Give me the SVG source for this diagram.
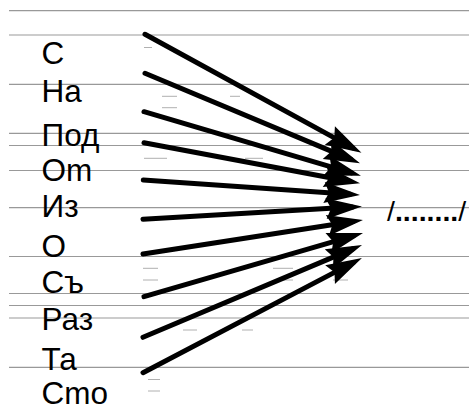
<svg xmlns="http://www.w3.org/2000/svg" width="469" height="410" viewBox="0 0 469 410">
<style>
.rule{stroke:#999;stroke-width:1.2;fill:none}
.dash{stroke:#b0b0b0;stroke-width:1;fill:none}
.lbl{font-family:"Liberation Sans",Arial,sans-serif;font-size:31.5px;fill:#000}
.tgt{font-family:"Liberation Sans",Arial,sans-serif;font-size:28.5px;fill:#000}
.arr{stroke:#000;stroke-width:5;fill:none;stroke-linecap:round;marker-end:url(#ah)}
</style>
<defs>
<marker id="ah" markerUnits="userSpaceOnUse" markerWidth="50" markerHeight="30" viewBox="-30 -15 50 30" refX="0" refY="0" orient="auto" overflow="visible">
<path d="M-26,-10.5 L10,0 L-26,10.5 L-21,0 Z" fill="#000"/>
</marker>
</defs>
<rect width="469" height="410" fill="#fff"/>
<g id="rules">
<line class="rule" x1="9" y1="10.7" x2="469" y2="10.7"/>
<line class="rule" x1="9" y1="35" x2="469" y2="35"/>
<line class="rule" x1="9" y1="84.3" x2="469" y2="84.3"/>
<line class="rule" x1="9" y1="133.3" x2="469" y2="133.3"/>
<line class="rule" x1="9" y1="145.5" x2="469" y2="145.5"/>
<line class="rule" x1="9" y1="170.5" x2="469" y2="170.5"/>
<line class="rule" x1="9" y1="207.7" x2="469" y2="207.7"/>
<line class="rule" x1="9" y1="256.5" x2="469" y2="256.5"/>
<line class="rule" x1="9" y1="293.5" x2="469" y2="293.5"/>
<line class="rule" x1="9" y1="305.5" x2="469" y2="305.5"/>
<line class="rule" x1="9" y1="318" x2="469" y2="318"/>
<line class="rule" x1="9" y1="367.3" x2="469" y2="367.3"/>
<line class="dash" x1="144" y1="47.5" x2="152" y2="47.5"/>
<line class="dash" x1="162" y1="96.3" x2="177" y2="96.3"/>
<line class="dash" x1="162" y1="107.7" x2="177" y2="107.7"/>
<line class="dash" x1="230" y1="96.3" x2="240" y2="96.3"/>
<line class="dash" x1="144" y1="158.3" x2="167" y2="158.3"/>
<line class="dash" x1="245" y1="158.3" x2="263" y2="158.3"/>
<line class="dash" x1="143" y1="268.3" x2="158" y2="268.3"/>
<line class="dash" x1="143" y1="280" x2="158" y2="280"/>
<line class="dash" x1="273" y1="268.3" x2="293" y2="268.3"/>
<line class="dash" x1="275" y1="280" x2="293" y2="280"/>
<line class="dash" x1="333" y1="280" x2="348" y2="280"/>
<line class="dash" x1="183" y1="330" x2="197" y2="330"/>
<line class="dash" x1="242" y1="330" x2="253" y2="330"/>
<line class="dash" x1="148" y1="379.5" x2="160" y2="379.5"/>
<line class="dash" x1="148" y1="391" x2="160" y2="391"/>
</g>
<g id="n-s"><text class="lbl" x="41.5" y="63.5">С</text></g>
<g id="n-na"><text class="lbl" x="41.5" y="101.5">На</text></g>
<g id="n-pod"><text class="lbl" x="41.5" y="145.5">Под</text></g>
<g id="n-ot"><text class="lbl" x="41.5" y="180.5">Оm</text></g>
<g id="n-iz"><text class="lbl" x="41.5" y="216.5">Из</text></g>
<g id="n-o"><text class="lbl" x="41.5" y="257">О</text></g>
<g id="n-sa"><text class="lbl" x="41.5" y="293">Съ</text></g>
<g id="n-raz"><text class="lbl" x="41.5" y="330">Раз</text></g>
<g id="n-ta"><text class="lbl" x="41.5" y="370">Та</text></g>
<g id="n-sto"><text class="lbl" x="41.5" y="404">Сmо</text></g>
<g id="n-target"><text class="tgt" x="387" y="221"><tspan>/</tspan><tspan font-weight="bold">........</tspan><tspan>/</tspan></text></g>
<g id="connectors">
<line class="arr" x1="145" y1="34.3" x2="352.7" y2="147.9"/>
<line class="arr" x1="145" y1="73.3" x2="350.8" y2="159.4"/>
<line class="arr" x1="144" y1="111.7" x2="351.4" y2="172.9"/>
<line class="arr" x1="144" y1="142.7" x2="350.2" y2="181.5"/>
<line class="arr" x1="143.3" y1="180" x2="350" y2="194.3"/>
<line class="arr" x1="143" y1="219.3" x2="352" y2="207.1"/>
<line class="arr" x1="143" y1="254" x2="353.1" y2="221.5"/>
<line class="arr" x1="144" y1="296.7" x2="353.4" y2="235.8"/>
<line class="arr" x1="143" y1="337.3" x2="352.8" y2="248.9"/>
<line class="arr" x1="143" y1="372.7" x2="353.1" y2="262.6"/>
</g>
</svg>
